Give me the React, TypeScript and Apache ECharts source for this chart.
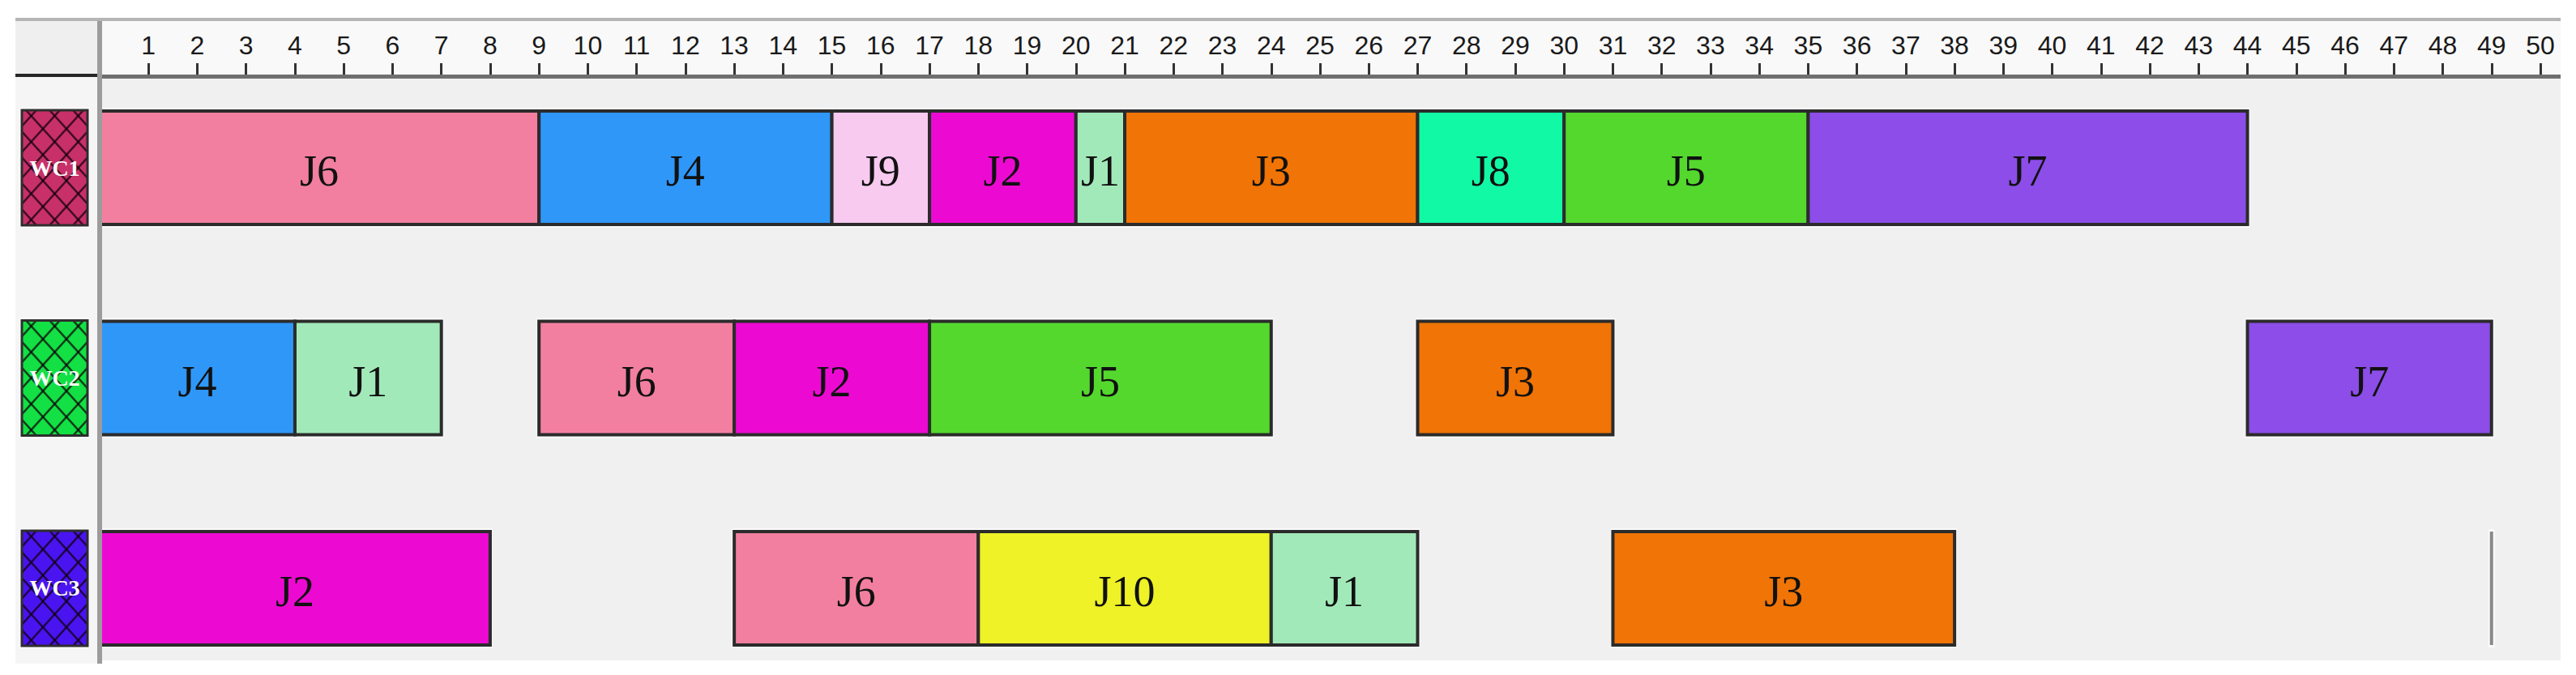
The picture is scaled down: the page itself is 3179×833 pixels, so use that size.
import React, { useEffect, useRef } from "react";
import * as echarts from "echarts";

// ---- Data ----
const workCenters = ["WC1", "WC2", "WC3"];
const workCenterColors = ["#c8306a", "#12e044", "#4a14f0"];

const wc1Jobs = ["J6", "J4", "J9", "J2", "J1", "J3", "J8", "J5", "J7"];
const wc1Start = [0, 9, 15, 17, 20, 21, 27, 30, 35];
const wc1End = [9, 15, 17, 20, 21, 27, 30, 35, 44];

const wc2Jobs = ["J4", "J1", "J6", "J2", "J5", "J3", "J7"];
const wc2Start = [0, 4, 9, 13, 17, 27, 44];
const wc2End = [4, 7, 13, 17, 24, 31, 49];

const wc3Jobs = ["J2", "J6", "J10", "J1", "J3", ""];
const wc3Start = [0, 13, 18, 24, 31, 49];
const wc3End = [8, 18, 24, 27, 38, 49];

const jobColors: Record<string, string> = {
  J1: "#a2e9b9",
  J2: "#ec0ad2",
  J3: "#f07406",
  J4: "#2f97f8",
  J5: "#54d82e",
  J6: "#f27fa0",
  J7: "#8c4de8",
  J8: "#12f9a6",
  J9: "#f8caf0",
  J10: "#eef226",
};

const timeMin = 0;
const timeMax = 50;
const timeInterval = 1;

// ---- build tasks ----
type Task = { job: string; start: number; end: number; row: number };
const tasks: Task[] = [];
[
  [wc1Jobs, wc1Start, wc1End],
  [wc2Jobs, wc2Start, wc2End],
  [wc3Jobs, wc3Start, wc3End],
].forEach(([jobs, st, en], row) => {
  (jobs as string[]).forEach((j, k) => {
    tasks.push({ job: j, start: (st as number[])[k], end: (en as number[])[k], row });
  });
});

const BAR_FRACTION = 0.54; // bar height as a fraction of the row pitch

function latticeLines(x0: number, y0: number, w: number, h: number, cw: number, ch: number) {
  const s = ch / cw;
  const segs: number[][] = [];
  const phase = ((h / 2) % ch) - ch / 2;
  for (let k = -Math.ceil((w * s) / ch) - 2; k <= Math.ceil(h / ch) + 2; k++) {
    const a = y0 + phase + k * ch - (s * w) / 2 + ch / 2;
    let xa = x0 + (y0 - a) / s;
    let xb = x0 + (y0 + h - a) / s;
    xa = Math.max(xa, x0);
    xb = Math.min(xb, x0 + w);
    if (xb > xa) segs.push([xa, a + s * (xa - x0), xb, a + s * (xb - x0)]);
  }
  for (let k = -2; k <= Math.ceil((h + w * s) / ch) + 2; k++) {
    const a = y0 + phase + k * ch + (s * w) / 2 - ch / 2;
    let xa = x0 + (a - y0 - h) / s;
    let xb = x0 + (a - y0) / s;
    xa = Math.max(xa, x0);
    xb = Math.min(xb, x0 + w);
    if (xb > xa) segs.push([xa, a - s * (xa - x0), xb, a - s * (xb - x0)]);
  }
  return segs;
}

export default function App() {
  const ref = useRef<HTMLDivElement>(null);

  useEffect(() => {
    if (!ref.current) return;
    const chart = echarts.init(ref.current, undefined, { renderer: "svg" });

    const gridLeft = 123;
    const gridRight = 3179 - 3135;
    const gridTop = 94;
    const gridBottom = 833 - 815;

    const option: any = {
      animation: false,
      backgroundColor: "#ffffff",
      grid: { left: gridLeft, right: gridRight, top: gridTop, bottom: gridBottom },
      xAxis: {
        type: "value",
        position: "top",
        min: timeMin,
        max: timeMax,
        interval: timeInterval,
        axisLine: { show: false, onZero: false },
        axisTick: { show: true, length: 16, lineStyle: { color: "#333", width: 3 } },
        axisLabel: {
          margin: 22,
          fontSize: 32,
          fontFamily: "Liberation Sans",
          color: "#1a1a1a",
          formatter: (v: number) => (v === 0 ? "" : String(v)),
        },
        splitLine: { show: false },
      },
      yAxis: {
        type: "value",
        inverse: true,
        min: -0.4355,
        max: 2.343,
        show: false,
      },
      graphic: [
        { type: "rect", z: -10, shape: { x: 19, y: 22, width: 3141, height: 4 }, style: { fill: "#b5b5b5" } },
        { type: "rect", z: -10, shape: { x: 125, y: 26, width: 3035, height: 66 }, style: { fill: "#f9f9f9" } },
        { type: "rect", z: -10, shape: { x: 19, y: 26, width: 102, height: 66 }, style: { fill: "#efefef" } },
        { type: "rect", z: -10, shape: { x: 125, y: 97, width: 3035, height: 718 }, style: { fill: "#f0f0f0" } },
        { type: "rect", z: -10, shape: { x: 19, y: 95, width: 102, height: 724 }, style: { fill: "#f5f5f5" } },
        { type: "rect", z: 10, shape: { x: 125, y: 92, width: 3035, height: 5 }, style: { fill: "#6f6f6f" } },
        { type: "rect", z: 10, shape: { x: 19, y: 91, width: 102, height: 4 }, style: { fill: "#262626" } },
        { type: "rect", z: 10, shape: { x: 120, y: 26, width: 6, height: 793 }, style: { fill: "#9c9c9c" } },
      ],
      series: [
        {
          type: "custom",
          name: "tasks",
          data: tasks.map((t) => [t.start, t.end, t.row]),
          encode: { x: [0, 1], y: 2 },
          renderItem: (params: any, api: any) => {
            const t = tasks[params.dataIndex];
            const s = api.coord([api.value(0), api.value(2)]);
            const e = api.coord([api.value(1), api.value(2)]);
            const h = api.size([0, BAR_FRACTION])[1];
            const top = s[1] - h / 2;
            if (e[0] - s[0] < 1) {
              return {
                type: "group",
                children: [
                  { type: "rect", z2: 0, shape: { x: s[0] - 4, y: top - 3, width: 8, height: h + 6 }, style: { fill: "#fafafa" } },
                  { type: "line", z2: 1, shape: { x1: s[0], y1: top, x2: s[0], y2: top + h }, style: { stroke: "#8a8a8a", lineWidth: 4 } },
                ],
              };
            }
            return {
              type: "group",
              children: [
                {
                  type: "rect",
                  z2: 0,
                  shape: { x: s[0] - 3, y: top - 4, width: e[0] - s[0] + 6, height: h + 8 },
                  style: { fill: "#fafafa" },
                },
                {
                  type: "rect",
                  z2: 1,
                  shape: { x: s[0], y: top, width: e[0] - s[0], height: h },
                  style: { fill: jobColors[t.job] || "#ccc", stroke: "#2b2b2b", lineWidth: 4 },
                },
                {
                  type: "text",
                  z2: 2,
                  style: {
                    text: t.job,
                    x: (s[0] + e[0]) / 2,
                    y: s[1] + 4,
                    align: "center",
                    verticalAlign: "middle",
                    font: '54px "Liberation Serif"',
                    fill: "#111",
                  },
                },
              ],
            };
          },
        },
        {
          type: "custom",
          name: "workcenters",
          data: workCenters.map((_, i) => [0, i]),
          encode: { x: 0, y: 1 },
          renderItem: (params: any, api: any) => {
            const i = params.dataIndex;
            const c = api.coord([api.value(0), api.value(1)]);
            const h = api.size([0, BAR_FRACTION])[1] + 2;
            const x0 = c[0] - 96;
            const w = 81;
            const y0 = c[1] - h / 2;
            const segs = latticeLines(x0, y0, w, h, 29, 32);
            const children: any[] = [
              { type: "rect", z2: 0, shape: { x: x0 - 3, y: y0 - 3, width: w + 6, height: h + 6 }, style: { fill: "#fbfbfb" } },
              { type: "rect", z2: 1, shape: { x: x0, y: y0, width: w, height: h }, style: { fill: workCenterColors[i] } },
            ];
            segs.forEach((sg) => {
              children.push({
                type: "line",
                z2: 2,
                shape: { x1: sg[0], y1: sg[1], x2: sg[2], y2: sg[3] },
                style: { stroke: "rgba(15,0,10,0.72)", lineWidth: 2.5 },
              });
            });
            children.push({
              type: "rect",
              z2: 3,
              shape: { x: x0, y: y0, width: w, height: h },
              style: { fill: "none", stroke: "#2e2e2e", lineWidth: 3 },
            });
            children.push({
              type: "text",
              z2: 4,
              style: {
                text: workCenters[i],
                x: x0 + w / 2,
                y: c[1],
                align: "center",
                verticalAlign: "middle",
                font: 'bold 28px "Liberation Serif"',
                fill: "#ffffff",
              },
            });
            return { type: "group", children };
          },
        },
      ],
    };

    chart.setOption(option);
    return () => chart.dispose();
  }, []);

  return (
    <div
      ref={ref}
      style={{ position: "absolute", left: 0, top: 0, width: 3179, height: 833, background: "#fff" }}
    />
  );
}
